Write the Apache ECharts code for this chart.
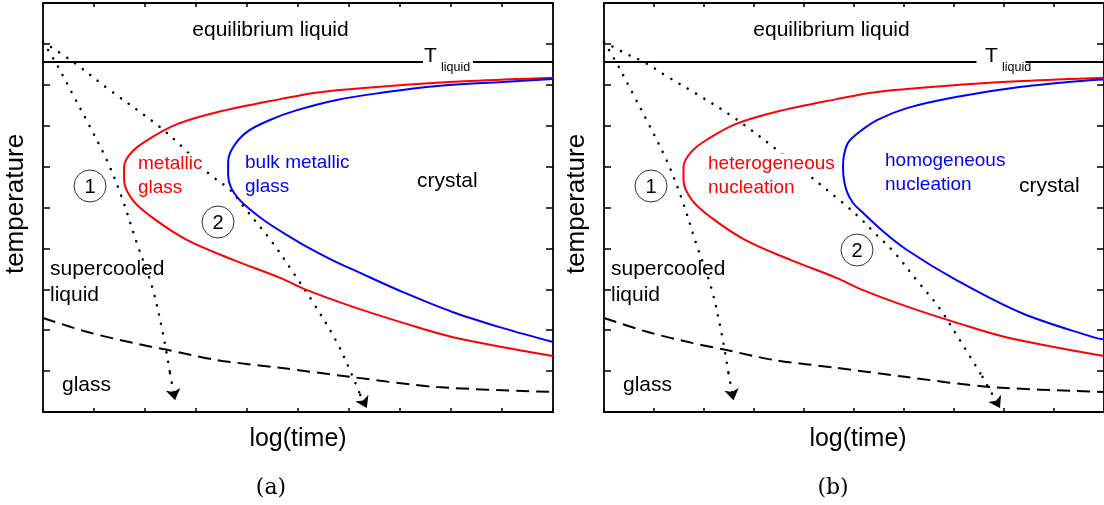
<!DOCTYPE html>
<html>
<head>
<meta charset="utf-8">
<script src="https://cdn.jsdelivr.net/npm/echarts@6/dist/echarts.min.js"></script>
<style>
  html, body { margin: 0; padding: 0; background: #fff; }
  #chart { width: 1104px; height: 505px; }
</style>
</head>
<body>
<div id="chart"></div>
<script>
// Schematic TTT diagram: temperature vs log(time), arbitrary units 0..10
const axisMin = 0, axisMax = 10, tickStep = 1;

// liquidus temperature and the gap left for its label
const tLiquid = 8.56;
const tLiquidGap = [7.45, 8.43];

// crystallisation onset, red nose (metallic glass / heterogeneous nucleation)
const redNose = [[10, 8.17], [8.37, 8.09], [6.80, 7.97], [5.43, 7.82], [4.65, 7.65], [3.41, 7.33],
  [2.63, 7.04], [2.14, 6.72], [1.76, 6.38], [1.59, 5.99], [1.59, 5.67], [1.76, 5.18], [2.16, 4.74],
  [2.82, 4.21], [3.73, 3.72], [4.65, 3.28], [5.18, 2.98], [6.08, 2.57], [7.06, 2.18], [8.04, 1.83], [10, 1.37]];

// blue nose, panel (a): bulk metallic glass
const blueNoseA = [[10, 8.14], [9.02, 8.07], [7.73, 7.97], [6.61, 7.80], [5.76, 7.63], [4.98, 7.38],
  [4.45, 7.14], [4.0, 6.85], [3.73, 6.48], [3.63, 6.11], [3.63, 5.79], [3.69, 5.48], [3.86, 5.18],
  [4.12, 4.89], [4.41, 4.62], [4.75, 4.35], [5.14, 4.06], [5.63, 3.74], [6.22, 3.40], [7.06, 2.93],
  [8.04, 2.44], [9.02, 2.05], [10, 1.71]];

// blue nose, panel (b): homogeneous nucleation
const blueNoseB = [[10, 8.13], [9.78, 8.12], [8.35, 7.95], [7.04, 7.70], [6.06, 7.43], [5.47, 7.14],
  [5.08, 6.82], [4.88, 6.58], [4.80, 6.28], [4.78, 5.99], [4.80, 5.67], [4.86, 5.38], [4.98, 5.11],
  [5.18, 4.87], [5.55, 4.45], [6.06, 3.96], [7.04, 3.23], [8.35, 2.42], [9.78, 1.83], [10, 1.77]];

// glass transition (dashed)
const glassLine = [[0, 2.30], [0.86, 1.96], [1.76, 1.69], [2.43, 1.52], [3.41, 1.27], [4.65, 1.08],
  [6.02, 0.86], [7.73, 0.61], [10, 0.49]];

// cooling paths (dotted, ending in an arrow)
const cooling1 = [[0, 9.05], [0.24, 8.56], [0.57, 7.80], [0.88, 7.07], [1.25, 6.16], [1.55, 5.23],
  [1.84, 4.13], [2.14, 3.06], [2.35, 1.93], [2.49, 0.95], [2.59, 0.29]];
const cooling2A = [[0, 9.05], [0.59, 8.56], [1.31, 7.87], [2.24, 7.02], [2.73, 6.48], [3.24, 5.84],
  [3.67, 5.43], [3.94, 5.01], [4.49, 4.16], [4.90, 3.42], [5.29, 2.69], [5.76, 1.71], [6.06, 0.90],
  [6.22, 0.42], [6.35, 0.10]];
const cooling2B = [[0, 9.05], [0.41, 8.78], [0.84, 8.53], [1.24, 8.22], [1.82, 7.80], [2.61, 7.19],
  [3.51, 6.36], [4.78, 5.11], [5.12, 4.74], [5.41, 4.38], [5.80, 3.91], [6.25, 3.23], [6.69, 2.57],
  [7.08, 1.83], [7.57, 0.86], [7.92, 0.10]];

const RED = '#ff0000', BLUE = '#0000ff', BLACK = '#000000';
const SANS = "'Liberation Sans', Arial, sans-serif";

const panels = [
  { left: 43, blue: blueNoseA, cooling2: cooling2A },
  { left: 604, blue: blueNoseB, cooling2: cooling2B }
];
const plotTop = 3, plotW = 510, plotH = 409;

const grids = [], xAxes = [], yAxes = [], series = [];

function valueAxis(gridIndex, position, tickLen) {
  return {
    type: 'value', gridIndex, position,
    min: axisMin, max: axisMax, interval: tickStep,
    axisLine: { show: true, onZero: false, lineStyle: { color: BLACK, width: 1.8 } },
    axisTick: { show: true, inside: true, length: tickLen, lineStyle: { color: BLACK, width: 1.5 } },
    axisLabel: { show: false },
    splitLine: { show: false }
  };
}

const dotted = { color: BLACK, width: 2.5, type: [0.1, 9.5], cap: 'round', opacity: 1 };

function addCooling(path, p) {
  const n = path.length;
  series.push({
    type: 'line', xAxisIndex: 2 * p, yAxisIndex: 2 * p,
    data: path.slice(0, n - 1), smooth: 0.35, symbol: 'none', silent: true,
    lineStyle: dotted, z: 3
  });
  series.push({
    type: 'lines', coordinateSystem: 'cartesian2d', xAxisIndex: 2 * p, yAxisIndex: 2 * p,
    symbol: ['none', 'arrow'], symbolSize: [0, 11], silent: true,
    lineStyle: dotted, z: 3,
    data: [{ coords: [path[n - 2], path[n - 1]] }]
  });
}

panels.forEach((pn, p) => {
  grids.push({ left: pn.left, top: plotTop, width: plotW, height: plotH });
  xAxes.push(valueAxis(p, 'bottom', 4), valueAxis(p, 'top', 4));
  yAxes.push(valueAxis(p, 'left', 7), valueAxis(p, 'right', 7));

  series.push({
    type: 'lines', coordinateSystem: 'cartesian2d', xAxisIndex: 2 * p, yAxisIndex: 2 * p,
    silent: true, lineStyle: { color: BLACK, width: 2, opacity: 1 }, z: 2,
    data: [
      { coords: [[axisMin, tLiquid], [tLiquidGap[0], tLiquid]] },
      { coords: [[tLiquidGap[1], tLiquid], [axisMax, tLiquid]] }
    ]
  });
  series.push({
    type: 'line', xAxisIndex: 2 * p, yAxisIndex: 2 * p, data: glassLine, smooth: 0.3,
    symbol: 'none', silent: true, lineStyle: { color: BLACK, width: 2, type: [13, 7] }, z: 2
  });
  series.push({
    type: 'line', xAxisIndex: 2 * p, yAxisIndex: 2 * p, data: redNose, smooth: 0.35,
    symbol: 'none', silent: true, lineStyle: { color: RED, width: 2 }, z: 4
  });
  series.push({
    type: 'line', xAxisIndex: 2 * p, yAxisIndex: 2 * p, data: pn.blue, smooth: 0.35,
    symbol: 'none', silent: true, lineStyle: { color: BLUE, width: 2 }, z: 4
  });
  addCooling(cooling1, p);
  addCooling(pn.cooling2, p);
});

// ---- annotations ----
const graphics = [];
function label(x, y, lines, color, size, opts) {
  opts = opts || {};
  const lh = opts.lineHeight || 24;
  lines.forEach((t, i) => {
    graphics.push({
      type: 'text', x: x, y: y + i * lh, z: 100,
      style: {
        text: t, fill: color, font: (opts.font || (size + 'px ' + SANS)),
        align: opts.align || 'left', verticalAlign: 'middle',
        textAlign: opts.align || 'left', textVerticalAlign: 'middle',
        backgroundColor: opts.bg || null, padding: opts.bg ? [1, 1] : 0
      }
    });
  });
}
function circled(cx, cy, t) {
  graphics.push({
    type: 'circle', z: 99, shape: { cx, cy, r: 16 },
    style: { fill: '#fff', stroke: '#333', lineWidth: 1 }
  });
  label(cx, cy + 1, [t], BLACK, 20, { align: 'center' });
}

const panelText = [
  { dx: 0, nose: ['metallic', 'glass'], noseX: 137, blue: ['bulk metallic', 'glass'], blueX: 245, blueY: 163,
    crystalX: 417, crystalY: 181, c2: [218, 222], tag: '(a)', tagX: 271, axisX: 298, tempX: 16 },
  { dx: 561, nose: ['heterogeneous', 'nucleation'], noseX: 707, blue: ['homogeneous', 'nucleation'], blueX: 885, blueY: 161,
    crystalX: 1019, crystalY: 186, c2: [857, 250], tag: '(b)', tagX: 833, axisX: 858, tempX: 577 }
];

panelText.forEach(pt => {
  label(270.5 + pt.dx, 30, ['equilibrium liquid'], BLACK, 21, { align: 'center' });
  label(424 + pt.dx, 56.5, ['T'], BLACK, 21);
  label(441 + pt.dx, 67.5, ['liquid'], BLACK, 12.5);
  label(pt.noseX, 164, pt.nose, RED, 19, { bg: '#fff', lineHeight: 23.5 });
  label(pt.blueX, pt.blueY, pt.blue, BLUE, 19, { lineHeight: 23.5 });
  label(pt.crystalX, pt.crystalY, ['crystal'], BLACK, 21);
  label(50 + pt.dx, 269.5, ['supercooled', 'liquid'], BLACK, 21, { lineHeight: 25.5 });
  label(62 + pt.dx, 385, ['glass'], BLACK, 21);
  circled(90 + pt.dx, 186, '1');
  circled(pt.c2[0], pt.c2[1], '2');
  label(pt.axisX, 439, ['log(time)'], BLACK, 25, { align: 'center' });
  label(pt.tagX, 488, [pt.tag], BLACK, 22, { align: 'center', font: "22px 'DejaVu Serif', serif" });
  graphics.push({
    type: 'text', x: pt.tempX, y: 204, rotation: Math.PI / 2, z: 100,
    style: {
      text: 'temperature', fill: BLACK, font: '26px ' + SANS,
      align: 'center', verticalAlign: 'middle', textAlign: 'center', textVerticalAlign: 'middle'
    }
  });
});

const chart = echarts.init(document.getElementById('chart'), null, { renderer: 'canvas' });
chart.setOption({
  animation: false,
  backgroundColor: '#fff',
  grid: grids,
  xAxis: xAxes,
  yAxis: yAxes,
  series: series,
  graphic: graphics
});
</script>
</body>
</html>
